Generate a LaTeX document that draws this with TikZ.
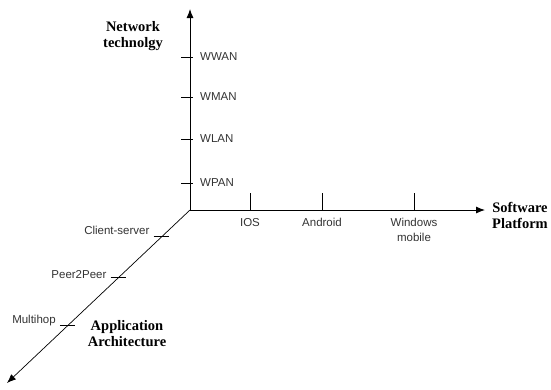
\documentclass[tikz,border=0pt]{standalone}
\usepackage{fontspec}
\setmainfont{Liberation Serif}
\setsansfont{Liberation Sans}
\usetikzlibrary{arrows.meta, positioning, calc}
\tikzset{
  axis/.style={-{Latex[length=9pt,width=7pt]}, line width=0.9pt, color=black},
  tickmark/.style={line width=0.8pt, color=black},
  lbl/.style={font=\sffamily\fontsize{11.5}{14.5}\selectfont, inner sep=1pt,
    text=black!80},
  axtitle/.style={font=\bfseries\fontsize{14.5}{16}\selectfont,
    align=center, inner sep=0pt},
}

\begin{document}
\begin{tikzpicture}[x=1pt, y=-1pt]
  \useasboundingbox (0,0) rectangle (551,389);
  \coordinate (orig) at (190,210);
  \coordinate (netend) at (190,9);
  \coordinate (softend) at (485,210);
  \coordinate (append) at (7,383);
  \draw[axis] (orig) -- (netend);
  \draw[axis] (orig) -- (softend);
  \draw[axis, line width=0.7pt] (orig) -- (append);
  % axis titles
  \node[axtitle] (nettitle) at (133,36) {Network\\technolgy};
  \node[axtitle, anchor=west] (softtitle) at (492,215) {Software\\Platform};
  \node[axtitle] (apptitle) at (127,334) {Application\\Architecture};
  % network technology ticks
  \foreach \y/\t in {57/WWAN, 97/WMAN, 139/WLAN, 183/WPAN} {
    \coordinate (n\t) at (190,\y);
    \draw[tickmark] ([xshift=-9pt]n\t) -- ([xshift=3pt]n\t);
    \node[lbl, right=9pt of n\t] (l\t) {\t};
  }
  % software platform ticks
  \foreach \x/\t/\s in {250/IOS/IOS, 322/Android/Android,
                        414/Windows\\mobile/Win} {
    \coordinate (s\s) at (\x,210);
    \draw[tickmark] (s\s) -- ([yshift=17pt]s\s);
    \node[lbl, below=7pt of s\s, align=center, anchor=north] (l\s) {\t};
  }
  % application architecture ticks
  \foreach \p/\t/\a/\u in {0.155/Client-server/cs/6, 0.39/Peer2Peer/pp/3,
                           0.667/Multihop/mh/5} {
    \coordinate (a\a) at ($(orig)!\p!(append)$);
    \draw[tickmark] ([xshift=-8pt]a\a) -- ([xshift=7pt]a\a);
    \node[lbl, anchor=east] (l\a) at ([xshift=-11pt,yshift=\u pt]a\a) {\t};
  }
\end{tikzpicture}
\end{document}
